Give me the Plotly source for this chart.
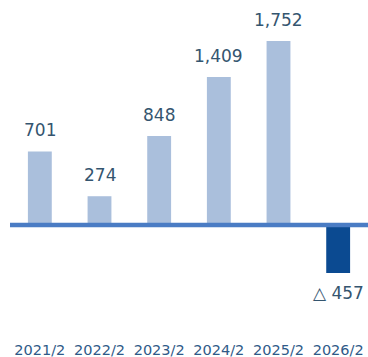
import plotly.graph_objects as go

# Fiscal years and profit values (negative = loss, shown with a triangle)
periods = ["2021/2", "2022/2", "2023/2", "2024/2", "2025/2", "2026/2"]
values = [701, 274, 848, 1409, 1752, -457]

POS_COLOR = "#aabfdc"
NEG_COLOR = "#0b4a91"
LINE_COLOR = "#4a7cc4"
LABEL_COLOR = "#34556f"
TICK_COLOR = "#2f5a88"
FONT = "DejaVu Sans"

bar_colors = [POS_COLOR if v >= 0 else NEG_COLOR for v in values]


def fmt(v):
    return f"{v:,}" if v >= 0 else f"\u25b3 {abs(v):,}"


fig = go.Figure(
    go.Bar(
        x=periods,
        y=values,
        width=0.4,
        marker=dict(color=bar_colors, line=dict(width=0)),
        hoverinfo="skip",
    )
)

# Value labels above positive bars, below negative bars
for p, v in zip(periods, values):
    fig.add_annotation(
        x=p,
        y=v,
        text=fmt(v),
        showarrow=False,
        yanchor="middle",
        yshift=21 if v >= 0 else -20,
        font=dict(family=FONT, size=17, color=LABEL_COLOR),
    )

# Baseline at zero
fig.add_shape(
    type="line",
    xref="paper",
    x0=0,
    x1=1,
    yref="y",
    y0=0,
    y1=0,
    line=dict(color=LINE_COLOR, width=4.5),
    layer="above",
)

fig.update_layout(
    width=368,
    height=357,
    margin=dict(l=10, r=0, t=0, b=20),
    paper_bgcolor="white",
    plot_bgcolor="white",
    showlegend=False,
    xaxis=dict(
        showgrid=False,
        zeroline=False,
        showline=False,
        ticks="",
        ticklabelstandoff=2,
        tickfont=dict(family=FONT, size=14.5, color=TICK_COLOR),
        range=[-0.5, 5.5],
    ),
    yaxis=dict(
        range=[-1067, 2143],
        showgrid=False,
        zeroline=False,
        showticklabels=False,
        showline=False,
        ticks="",
    ),
)

fig.write_html("out.html")
